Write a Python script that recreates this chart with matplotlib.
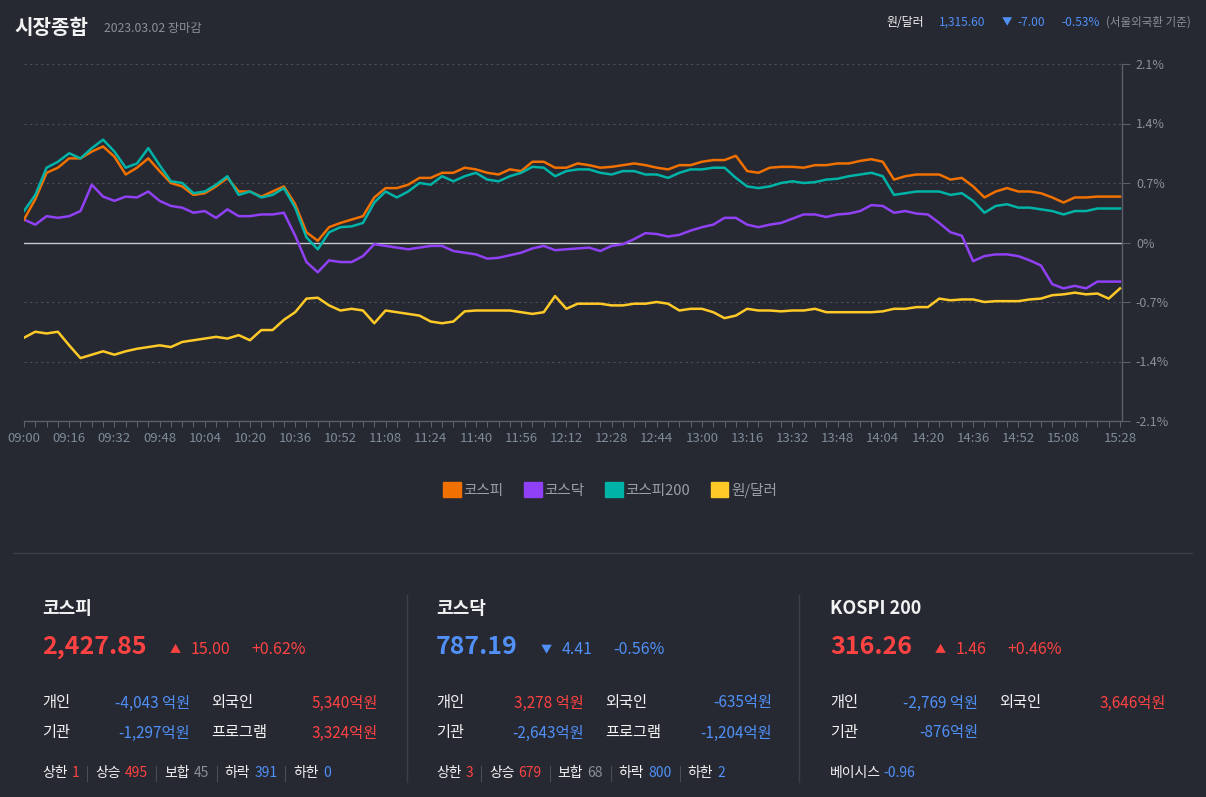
import matplotlib
matplotlib.use("Agg")
import matplotlib.pyplot as plt
from matplotlib.patches import Patch

plt.rcParams['font.family'] = ['Noto Sans CJK KR', 'DejaVu Sans']

# ---- data ----
# minutes after 09:00, one sample every 4 minutes up to 15:28
minutes = list(range(0, 389, 4))

kospi = [0.27, 0.51, 0.82, 0.88, 0.99, 0.99, 1.07, 1.13, 1.01, 0.80,
         0.88, 0.99, 0.84, 0.70, 0.66, 0.56, 0.58, 0.66, 0.76, 0.60,
         0.60, 0.54, 0.60, 0.66, 0.45, 0.12, 0.02, 0.18, 0.23, 0.27,
         0.31, 0.53, 0.64, 0.64, 0.68,
         0.76, 0.76, 0.82, 0.82, 0.88, 0.86, 0.82, 0.80, 0.86, 0.84,
         0.95, 0.95, 0.88, 0.88, 0.93, 0.91, 0.88, 0.89, 0.91, 0.93,
         0.91, 0.88, 0.86, 0.91, 0.91, 0.95, 0.97, 0.97, 1.02, 0.84,
         0.82, 0.88,
         0.89, 0.89, 0.88, 0.91, 0.91, 0.93, 0.93, 0.96, 0.98, 0.95,
         0.74, 0.78, 0.80, 0.80, 0.80, 0.74, 0.76, 0.66, 0.53, 0.60,
         0.64, 0.60, 0.60, 0.58, 0.53, 0.47, 0.53, 0.53, 0.54, 0.54,
         0.54]

kosdaq = [0.27, 0.21, 0.31, 0.29, 0.31, 0.37, 0.68, 0.54, 0.49, 0.54,
          0.53, 0.60, 0.49, 0.43, 0.41, 0.35, 0.37, 0.29, 0.39, 0.31,
          0.31, 0.33, 0.33, 0.35, 0.08, -0.23, -0.35, -0.21, -0.23, -0.23,
          -0.16, -0.02, -0.04, -0.06, -0.08,
          -0.06, -0.04, -0.04, -0.10, -0.12, -0.14, -0.19, -0.18, -0.15, -0.12,
          -0.07, -0.04, -0.09, -0.08, -0.07, -0.06, -0.10, -0.04, -0.02, 0.04,
          0.11, 0.10, 0.07, 0.09, 0.14, 0.18, 0.21, 0.29, 0.29, 0.21,
          0.18, 0.21,
          0.23, 0.28, 0.33, 0.33, 0.30, 0.33, 0.34, 0.37, 0.44, 0.43,
          0.35, 0.37, 0.34, 0.33, 0.23, 0.12, 0.08, -0.22, -0.16, -0.14,
          -0.14, -0.16, -0.21, -0.27, -0.49, -0.54, -0.51, -0.54, -0.46, -0.46,
          -0.46]

kospi200 = [0.37, 0.56, 0.88, 0.95, 1.05, 0.99, 1.11, 1.21, 1.07, 0.88,
            0.93, 1.11, 0.91, 0.72, 0.70, 0.58, 0.60, 0.68, 0.78, 0.56,
            0.60, 0.53, 0.56, 0.64, 0.41, 0.06, -0.08, 0.12, 0.18, 0.19,
            0.23, 0.47, 0.60, 0.53, 0.60,
            0.70, 0.68, 0.78, 0.72, 0.78, 0.82, 0.74, 0.72, 0.78, 0.82,
            0.89, 0.88, 0.78, 0.84, 0.86, 0.86, 0.82, 0.80, 0.84, 0.84,
            0.80, 0.80, 0.76, 0.82, 0.86, 0.86, 0.88, 0.88, 0.76, 0.66,
            0.64, 0.66,
            0.70, 0.72, 0.70, 0.71, 0.74, 0.75, 0.78, 0.80, 0.82, 0.78,
            0.56, 0.58, 0.60, 0.60, 0.60, 0.56, 0.58, 0.49, 0.35, 0.43,
            0.45, 0.41, 0.41, 0.39, 0.37, 0.33, 0.37, 0.37, 0.40, 0.40,
            0.40]

usdkrw = [-1.12, -1.05, -1.07, -1.05, -1.21, -1.36, -1.32, -1.28, -1.32, -1.28,
          -1.25, -1.23, -1.21, -1.23, -1.17, -1.15, -1.13, -1.11, -1.13, -1.09,
          -1.15, -1.03, -1.03, -0.91, -0.82, -0.66, -0.65, -0.74, -0.80, -0.78,
          -0.80, -0.95, -0.80, -0.82, -0.84,
          -0.86, -0.93, -0.95, -0.93, -0.81, -0.80, -0.80, -0.80, -0.80, -0.82,
          -0.84, -0.82, -0.63, -0.78, -0.72, -0.72, -0.72, -0.74, -0.74, -0.72,
          -0.72, -0.70, -0.72, -0.80, -0.78, -0.78, -0.82, -0.89, -0.86, -0.78,
          -0.80, -0.80,
          -0.81, -0.80, -0.80, -0.78, -0.82, -0.82, -0.82, -0.82, -0.82, -0.81,
          -0.78, -0.78, -0.76, -0.76, -0.66, -0.68, -0.67, -0.67, -0.70, -0.69,
          -0.69, -0.69, -0.67, -0.66, -0.62, -0.61, -0.59, -0.61, -0.60, -0.66,
          -0.54]

series_names = ["코스피", "코스닥", "코스피200", "원/달러"]
series_colors = ["#f07000", "#9040f5", "#00b3a7", "#ffca28"]

xtick_minutes = [0, 16, 32, 48, 64, 80, 96, 112, 128, 144, 160, 176, 192,
                 208, 224, 240, 256, 272, 288, 304, 320, 336, 352, 368, 388]
xtick_labels = ["09:00", "09:16", "09:32", "09:48", "10:04", "10:20", "10:36",
                "10:52", "11:08", "11:24", "11:40", "11:56", "12:12", "12:28",
                "12:44", "13:00", "13:16", "13:32", "13:48", "14:04", "14:20",
                "14:36", "14:52", "15:08", "15:28"]
ytick_values = [-2.1, -1.4, -0.7, 0.0, 0.7, 1.4, 2.1]
ytick_labels = ["-2.1%", "-1.4%", "-0.7%", "0%", "0.7%", "1.4%", "2.1%"]

# bottom panels
panel_names = ["코스피", "코스닥", "KOSPI 200"]
panel_values = ["2,427.85", "787.19", "316.26"]
panel_up = [True, False, True]
panel_changes = ["15.00", "4.41", "1.46"]
panel_pcts = ["+0.62%", "-0.56%", "+0.46%"]
flow_individual = ["-4,043 억원", "3,278 억원", "-2,769 억원"]
flow_foreign = ["5,340억원", "-635억원", "3,646억원"]
flow_institution = ["-1,297억원", "-2,643억원", "-876억원"]
flow_program = ["3,324억원", "-1,204억원", None]
breadth_labels = ["상한", "상승", "보합", "하락", "하한"]
breadth_kospi = ["1", "495", "45", "391", "0"]
breadth_kosdaq = ["3", "679", "68", "800", "2"]
kospi200_basis = "-0.96"

# ---- style ----
BG = "#262932"
RED = "#ff4242"
BLUE = "#5090f7"
WHITE = "#f2f2f2"
GRAY = "#8b8f97"
LINE = "#3c3f48"

fig = plt.figure(figsize=(12.06, 7.97), dpi=100, facecolor=BG)

# full-figure pixel canvas for the text parts
bg = fig.add_axes([0, 0, 1, 1], zorder=0)
bg.set_xlim(0, 1206)
bg.set_ylim(797, 0)
bg.axis("off")
bg.set_facecolor(BG)

renderer = fig.canvas.get_renderer()


def put(x, y, s, color, size, weight="normal", ha="left"):
    return bg.text(x, y, s, color=color, fontsize=size, fontweight=weight,
                   ha=ha, va="center")


def width_of(t):
    return t.get_window_extent(renderer).width


def signed_color(s):
    return BLUE if s.startswith("-") else RED


# header
put(14, 27, "시장종합", WHITE, 14.5, "bold")
put(104, 28, "2023.03.02 장마감", GRAY, 8.8)
put(886, 22, "원/달러", WHITE, 8.6)
put(939, 22, "1,315.60", BLUE, 8.6)
put(1002, 22, "▼", BLUE, 7.5)
put(1017, 22, "-7.00", BLUE, 8.6)
put(1061, 22, "-0.53%", BLUE, 8.6)
put(1106, 22, "(서울외국환 기준)", GRAY, 8.3)

# ---- chart ----
ax = fig.add_axes([24 / 1206, 1 - 421 / 797, 1098 / 1206, 357 / 797], zorder=2)
ax.set_facecolor("none")
all_series = [kospi, kosdaq, kospi200, usdkrw]
zorders = [4, 3, 5, 2]
for vals, col, z in zip(all_series, series_colors, zorders):
    ax.plot(minutes, vals, color=col, lw=1.8, zorder=z, solid_joinstyle="round")

ax.axhline(0, color="#c8cad0", lw=1, zorder=1)
for v in ytick_values:
    if v != 0:
        ax.axhline(v, color="#4c4f58", lw=0.8, ls=(0, (2, 3)), zorder=0)

ax.set_xlim(0, 388.7)
ax.set_ylim(-2.1, 2.1)
ax.yaxis.tick_right()
ax.set_yticks(ytick_values)
ax.set_yticklabels(ytick_labels)
ax.set_xticks(xtick_minutes)
ax.set_xticklabels(xtick_labels)
ax.set_xticks(list(range(0, 389, 4)), minor=True)
ax.tick_params(axis="y", colors="#5c5f68", labelcolor=GRAY, labelsize=9,
               length=6, pad=4)
ax.tick_params(axis="x", which="both", colors="#5c5f68", length=4, width=0.8)
ax.tick_params(axis="x", labelcolor="#7f8b99", labelsize=9.5, pad=4)
for side in ["left", "top"]:
    ax.spines[side].set_visible(False)
for side in ["right", "bottom"]:
    ax.spines[side].set_color("#5c5f68")
    ax.spines[side].set_linewidth(1)

handles = [Patch(facecolor=c, edgecolor=c) for c in series_colors]
fig.legend(handles, series_names, loc="center",
           bbox_to_anchor=(610 / 1206, 1 - 490 / 797), ncol=4, frameon=False,
           fontsize=10.5, labelcolor="#9aa0a8", handlelength=1.2,
           handleheight=1.2, handletextpad=0.2, columnspacing=1.4)

# ---- bottom panels ----
bg.plot([14, 1192], [553, 553], color=LINE, lw=1)
for sx in [407, 799]:
    bg.plot([sx, sx], [595, 782], color=LINE, lw=1)

panel_x = [42, 436, 830]
for i, x0 in enumerate(panel_x):
    put(x0, 609, panel_names[i], WHITE, 13, "bold")
    col = RED if panel_up[i] else BLUE
    t = put(x0, 647, panel_values[i], col, 18, "bold")
    xa = x0 + width_of(t) + 23
    arrow = "▲" if panel_up[i] else "▼"
    put(xa, 650, arrow, col, 8)
    t = put(xa + 21, 650, panel_changes[i], col, 11.5)
    put(xa + 21 + width_of(t) + 21, 650, panel_pcts[i], col, 11.5)

    put(x0, 703, "개인", WHITE, 11)
    put(x0 + 148, 703, flow_individual[i], signed_color(flow_individual[i]), 11, ha="right")
    put(x0 + 169, 703, "외국인", WHITE, 11)
    put(x0 + 336, 703, flow_foreign[i], signed_color(flow_foreign[i]), 11, ha="right")
    put(x0, 733, "기관", WHITE, 11)
    put(x0 + 148, 733, flow_institution[i], signed_color(flow_institution[i]), 11, ha="right")
    if flow_program[i] is not None:
        put(x0 + 169, 733, "프로그램", WHITE, 11)
        put(x0 + 336, 733, flow_program[i], signed_color(flow_program[i]), 11, ha="right")

breadth_colors = [RED, RED, GRAY, BLUE, BLUE]
for x0, counts in zip(panel_x[:2], [breadth_kospi, breadth_kosdaq]):
    x = x0
    for j, (lab, num) in enumerate(zip(breadth_labels, counts)):
        t = put(x, 773, lab, WHITE, 10)
        x += width_of(t) + 4
        t = put(x, 773, num, breadth_colors[j], 10)
        x += width_of(t)
        if j < len(breadth_labels) - 1:
            bg.plot([x + 8, x + 8], [766, 781], color="#4a4d56", lw=0.8)
            x += 16

t = put(panel_x[2], 773, "베이시스", WHITE, 10)
put(panel_x[2] + width_of(t) + 2, 773, kospi200_basis, BLUE, 10)

fig.savefig("out.png", dpi=100, facecolor=BG)
